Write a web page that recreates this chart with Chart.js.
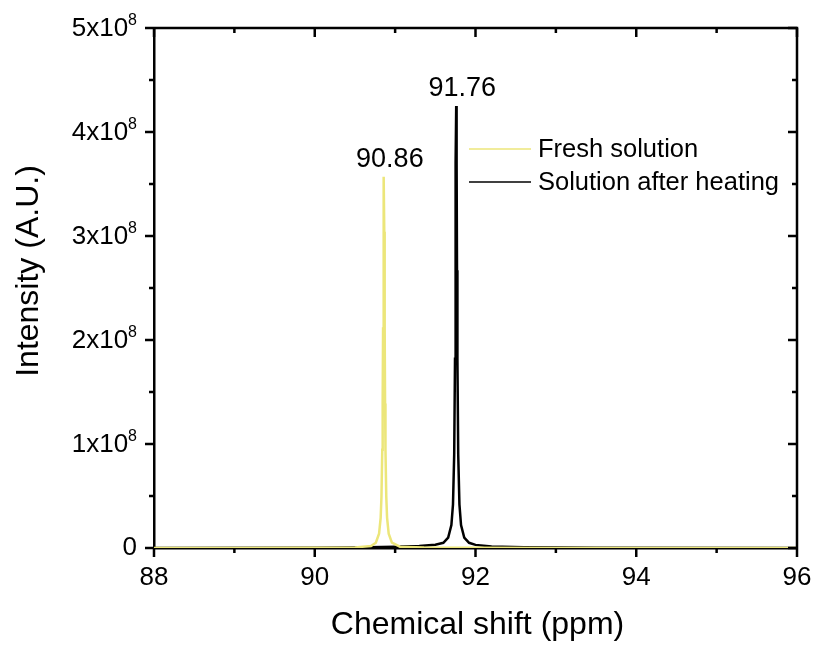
<!DOCTYPE html>
<html>
<head>
<meta charset="utf-8">
<script src="https://cdn.jsdelivr.net/npm/chart.js@4.4.0/dist/chart.umd.min.js"></script>
<style>
html, body { margin: 0; padding: 0; background: #fff; }
</style>
</head>
<body>
<canvas id="myChart" width="816" height="646"></canvas>
<script>
"use strict";

/********/
/* data */
/********/
// chemical shift (ppm) and intensity (x10^8 A.U.)
const freshShift = [88, 89, 90, 90.5, 90.7, 90.76, 90.8, 90.82, 90.83, 90.84, 90.845, 90.85, 90.855,
	90.86, 90.865, 90.87, 90.875, 90.88, 90.89, 90.9, 90.92, 90.96, 91.06, 91.36, 92, 93, 96];
const freshIntensity = [0, 0.001, 0.002, 0.005, 0.02, 0.051, 0.137, 0.29, 0.49, 0.945, 1.39, 2.11, 3.04,
	3.57, 3.04, 2.11, 1.39, 0.945, 0.49, 0.29, 0.137, 0.051, 0.013, 0.005, 0.002, 0.001, 0];

const heatedShift = [88, 90, 90.5, 91, 91.3, 91.5, 91.6, 91.66, 91.7, 91.72, 91.735, 91.745, 91.75, 91.755,
	91.76, 91.765, 91.77, 91.775, 91.785, 91.8, 91.82, 91.86, 91.92, 92, 92.2, 92.6, 93.5, 96];
const heatedIntensity = [0, 0.003, 0.006, 0.012, 0.02, 0.032, 0.05, 0.1, 0.22, 0.42, 0.9, 1.82, 2.67, 3.7,
	4.25, 3.7, 2.67, 1.82, 0.9, 0.42, 0.22, 0.1, 0.05, 0.03, 0.014, 0.007, 0.003, 0.001];

const seriesNames = ["Fresh solution", "Solution after heating"];
const seriesColors = ["#ece67a", "#000000"];
const peakShifts = [90.86, 91.76];
const peakLabels = ["90.86", "91.76"];

// axis ticks and titles
const xMajorTicks = [88, 90, 92, 94, 96];
const xMinorTicks = [89, 91, 93, 95];
const yMajorTicks = [0, 1, 2, 3, 4, 5];
const yMinorTicks = [0.5, 1.5, 2.5, 3.5, 4.5];
const xTitle = "Chemical shift (ppm)";
const yTitle = "Intensity (A.U.)";

/***********/
/* helpers */
/***********/
function toPoints(xs, ys) {
	return xs.map((x, i) => ({ x: x, y: ys[i] }));
}

const FONT = "Arial, 'Liberation Sans', sans-serif";

// frame, tick marks, superscript tick labels, titles, peak labels and legend
const decorPlugin = {
	id: "decor",
	afterDraw(chart) {
		const ctx = chart.ctx;
		const a = chart.chartArea;
		const xs = chart.scales.x;
		const ys = chart.scales.y;
		ctx.save();
		ctx.strokeStyle = "#000";
		ctx.fillStyle = "#000";
		ctx.lineWidth = 2.5;
		ctx.lineCap = "butt";

		// top and right frame lines
		ctx.beginPath();
		ctx.moveTo(a.left, a.top);
		ctx.lineTo(a.right, a.top);
		ctx.lineTo(a.right, a.bottom);
		ctx.stroke();

		// tick marks: outward on left/bottom, inward on right/top
		function vTick(v, len) {
			const y = ys.getPixelForValue(v);
			ctx.beginPath();
			ctx.moveTo(a.left - len, y);
			ctx.lineTo(a.left, y);
			ctx.moveTo(a.right - len, y);
			ctx.lineTo(a.right, y);
			ctx.stroke();
		}
		function hTick(v, len) {
			const x = xs.getPixelForValue(v);
			ctx.beginPath();
			ctx.moveTo(x, a.bottom);
			ctx.lineTo(x, a.bottom + len);
			ctx.moveTo(x, a.top);
			ctx.lineTo(x, a.top + len);
			ctx.stroke();
		}
		yMajorTicks.forEach(v => vTick(v, 9));
		yMinorTicks.forEach(v => vTick(v, 5));
		xMajorTicks.forEach(v => hTick(v, 9));
		xMinorTicks.forEach(v => hTick(v, 5));

		// y tick labels with superscript exponent
		ctx.textBaseline = "middle";
		const labelRight = a.left - 17;
		yMajorTicks.forEach(v => {
			const y = ys.getPixelForValue(v);
			if (v === 0) {
				ctx.font = "26px " + FONT;
				ctx.textAlign = "right";
				ctx.fillText("0", labelRight, y);
				return;
			}
			ctx.font = "16px " + FONT;
			const supW = ctx.measureText("8").width;
			ctx.textAlign = "left";
			ctx.fillText("8", labelRight - supW, y - 7);
			ctx.font = "26px " + FONT;
			ctx.textAlign = "right";
			ctx.fillText(v + "x10", labelRight - supW, y + 1);
		});

		// axis titles
		ctx.font = "32px " + FONT;
		ctx.textBaseline = "alphabetic";
		ctx.textAlign = "center";
		ctx.fillText(xTitle, (a.left + a.right) / 2 + 2, 634);
		ctx.save();
		ctx.translate(38, (a.top + a.bottom) / 2 - 17);
		ctx.rotate(-Math.PI / 2);
		ctx.fillText(yTitle, 0, 0);
		ctx.restore();

		// peak position labels
		ctx.font = "27px " + FONT;
		ctx.textAlign = "center";
		ctx.textBaseline = "middle";
		chart.data.datasets.forEach((ds, i) => {
			const peak = Math.max(...ds.data.map(p => p.y));
			const x = xs.getPixelForValue(peakShifts[i]);
			const y = ys.getPixelForValue(peak);
			ctx.fillText(peakLabels[i], x + 6, y - 17);
		});

		// legend
		ctx.font = "25.5px " + FONT;
		const lx = a.left + 315;
		let ly = a.top + 121;
		chart.data.datasets.forEach(ds => {
			ctx.strokeStyle = ds.borderColor;
			ctx.lineWidth = 1.5;
			ctx.beginPath();
			ctx.moveTo(lx, ly);
			ctx.lineTo(lx + 62, ly);
			ctx.stroke();
			ctx.textAlign = "left";
			ctx.fillText(ds.label, lx + 69, ly + 1);
			ly += 33;
		});
		ctx.restore();
	}
};

/********/
/* MAIN */
/********/
(function main() {
	const ctx = document.getElementById("myChart").getContext("2d");
	new Chart(ctx, {
		type: "line",
		data: {
			datasets: [{
				label: seriesNames[0],
				data: toPoints(freshShift, freshIntensity),
				borderColor: seriesColors[0],
				borderWidth: 2.5,
				pointRadius: 0,
				tension: 0
			}, {
				label: seriesNames[1],
				data: toPoints(heatedShift, heatedIntensity),
				borderColor: seriesColors[1],
				borderWidth: 2.5,
				pointRadius: 0,
				tension: 0
			}]
		},
		options: {
			responsive: false,
			animation: false,
			layout: { padding: { top: 28, right: 19, left: 0, bottom: 0 } },
			plugins: {
				legend: { display: false },
				tooltip: { enabled: false }
			},
			scales: {
				x: {
					type: "linear",
					min: 88,
					max: 96,
					afterBuildTicks: scale => {
						scale.ticks = xMajorTicks.map(v => ({ value: v }));
					},
					grid: { display: false, drawTicks: false },
					border: { display: true, color: "#000", width: 2.5 },
					ticks: {
						color: "#000",
						font: { family: FONT, size: 26 },
						padding: 14,
						maxRotation: 0
					},
					afterFit: scale => {
						scale.height = 98;
						scale.paddingLeft = 0;
						scale.paddingRight = 0;
					}
				},
				y: {
					type: "linear",
					min: 0,
					max: 5,
					afterBuildTicks: scale => {
						scale.ticks = yMajorTicks.map(v => ({ value: v }));
					},
					grid: { display: false, drawTicks: false },
					border: { display: true, color: "#000", width: 2.5 },
					ticks: { display: false },
					afterFit: scale => {
						scale.width = 154;
						scale.paddingTop = 0;
						scale.paddingBottom = 0;
					}
				}
			}
		},
		plugins: [decorPlugin]
	});
})();
</script>
</body>
</html>
